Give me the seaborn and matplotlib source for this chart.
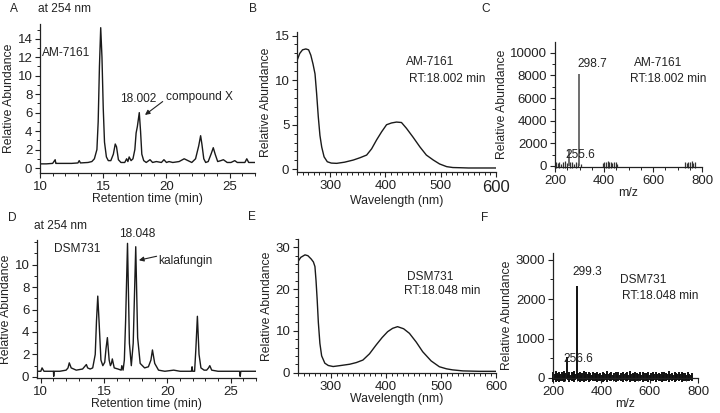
import matplotlib
matplotlib.use("Agg")
import matplotlib.pyplot as plt
from matplotlib.ticker import MultipleLocator
import seaborn as sns

# ---------------- data ----------------
# Panel A: HPLC chromatogram (254 nm) of AM-7161
A_time = [
    10.0, 10.5, 11.0, 11.2, 11.25, 11.3, 11.8, 12.5, 13.0, 13.1,
    13.2, 13.8, 14.1, 14.3, 14.5, 14.6, 14.7, 14.8, 14.9, 15.0,
    15.1, 15.25, 15.4, 15.6, 15.8, 15.95, 16.05, 16.2, 16.4, 16.7,
    16.85, 16.95, 17.05, 17.2, 17.35, 17.5, 17.6, 17.7, 17.85, 17.95,
    18.05, 18.2, 18.4, 18.7, 18.9, 19.2, 19.6, 19.8, 20.0, 20.2,
    20.5, 21.0, 21.4, 21.7, 22.0, 22.3, 22.55, 22.7, 22.8, 22.95,
    23.1, 23.3, 23.55, 23.7, 23.85, 24.05, 24.3, 24.5, 24.8, 25.1,
    25.4, 25.6, 25.9, 26.2, 26.35, 26.5, 27.0]
A_val = [
    0.45, 0.45, 0.5, 0.9, 0.5, 0.5, 0.5, 0.5, 0.55, 0.8,
    0.55, 0.6, 0.7, 1.0, 2.0, 5.0, 11.0, 15.2, 12.0, 6.5,
    2.8, 1.2, 0.8, 0.8, 1.5, 2.6, 2.3, 0.9, 0.6, 0.6,
    1.0, 0.7, 1.2, 0.8, 1.0, 2.0, 3.8, 4.5, 6.0, 4.0,
    1.5, 0.8, 0.6, 0.9, 0.6, 0.7, 0.6, 0.9, 0.6, 0.7,
    0.6, 0.7, 1.0, 0.8, 0.6, 1.0, 2.4, 3.5, 2.6, 1.0,
    0.6, 0.7, 1.6, 2.2, 1.5, 0.7, 0.8, 0.9, 0.6, 0.6,
    0.8, 0.6, 0.6, 0.6, 1.0, 0.6, 0.6]

# Panel D: HPLC chromatogram (254 nm) of DSM731
D_time = [
    9.7, 10.0, 10.1, 10.25, 10.6, 11.0, 11.02, 11.05, 11.5, 12.0,
    12.15, 12.25, 12.4, 12.8, 13.3, 13.6, 13.7, 13.9, 14.1, 14.3,
    14.4, 14.5, 14.6, 14.75, 14.9, 15.05, 15.15, 15.26, 15.4, 15.5,
    15.58, 15.65, 15.8, 16.1, 16.35, 16.4, 16.5, 16.6, 16.7, 16.85,
    17.0, 17.15, 17.3, 17.5, 17.65, 17.85, 18.2, 18.5, 18.7, 18.82,
    19.0, 19.3, 19.8, 20.5, 21.0, 21.5, 21.9, 21.95, 22.0, 22.15,
    22.25, 22.37, 22.5, 22.65, 22.9, 23.1, 23.25, 23.35, 23.5, 24.0,
    24.5, 25.0, 25.5, 25.7, 25.75, 25.8, 26.2, 26.6, 27.0]
D_val = [
    0.5, 0.5, 0.8, 0.5, 0.5, 0.5, 0.05, 0.5, 0.5, 0.6,
    0.8, 1.25, 0.8, 0.6, 0.7, 1.1, 0.8, 0.7, 0.8, 2.0,
    5.0, 7.2, 5.0, 1.5, 1.0, 1.3, 2.5, 3.5, 1.5, 1.0,
    1.2, 1.6, 0.8, 0.7, 0.6, 1.0, 0.6, 1.5, 5.0, 11.9,
    3.0, 1.0, 3.0, 11.6, 3.5, 1.2, 0.8, 0.9, 1.5, 2.4,
    1.2, 0.6, 0.5, 0.6, 0.5, 0.5, 0.5, 0.9, 0.5, 0.5,
    2.5, 5.4, 2.0, 0.8, 0.6, 0.6, 0.8, 1.0, 0.6, 0.5,
    0.5, 0.5, 0.5, 0.5, 0.05, 0.5, 0.5, 0.5, 0.5]

# Panel B: UV spectrum, AM-7161, RT 18.002 min
B_wl = [240, 245, 250, 256, 261, 265, 269, 272.6, 275.5, 278.5,
        281.5, 284.7, 289, 294.8, 302, 311.8, 326, 341.8, 354, 366,
        375, 384, 393, 402, 411, 420, 429, 438, 450, 462.5,
        474, 486.6, 498, 510.8, 522, 535, 550, 565, 580, 600]
B_val = [12.2, 13.0, 13.4, 13.5, 13.4, 12.8, 11.8, 10.7, 8.5, 5.9,
         3.8, 2.5, 1.4, 0.85, 0.7, 0.67, 0.8, 1.04, 1.3, 1.6,
         2.3, 3.3, 4.2, 5.0, 5.2, 5.3, 5.25, 4.6, 3.6, 2.5,
         1.6, 1.04, 0.6, 0.3, 0.2, 0.18, 0.15, 0.15, 0.15, 0.15]

# Panel E: UV spectrum, DSM731, RT 18.048 min
E_wl = [240, 245, 252.7, 258, 264, 268, 270.8, 272.8, 274.9, 277,
        279.8, 283, 288.8, 295, 303.9, 318, 334, 346, 358, 370,
        382, 393, 403, 412, 421, 432, 442.6, 455, 466.7, 482,
        497, 510, 521, 540, 570, 600]
E_val = [26.6, 27.6, 28.2, 28.0, 27.2, 26.5, 25.4, 22.0, 17.4, 12.0,
         7.0, 4.0, 2.25, 1.7, 1.45, 1.7, 2.0, 2.4, 3.0, 4.5,
         6.6, 8.4, 9.8, 10.6, 11.0, 10.5, 9.4, 7.3, 5.0, 2.8,
         1.4, 0.9, 0.65, 0.4, 0.3, 0.3]

# Panel C: mass spectrum, AM-7161
C_peak_mz = [298.7, 255.6]
C_peak_int = [8100, 1400]
C_noise_mz = [205, 212, 218, 226, 233, 240, 247, 262, 270, 278,
              285, 292, 305, 395, 402, 408, 415, 421, 428, 434,
              441, 447, 455, 730, 737, 744, 751, 758, 765, 772]
C_noise_int = [300, 250, 350, 200, 300, 400, 250, 300, 350, 200,
               300, 250, 200, 250, 350, 300, 400, 300, 350, 250,
               300, 350, 200, 300, 250, 350, 300, 400, 250, 300]

# Panel F: mass spectrum, DSM731
F_peak_mz = [299.3, 256.6]
F_peak_int = [2340, 530]
F_noise_mz = [202, 207, 211, 216, 221, 226, 231, 236, 240, 245,
              250, 262, 267, 272, 277, 283, 288, 293, 305, 310,
              316, 321, 327, 333, 338, 344, 350, 355, 361, 367,
              372, 378, 384, 390, 395, 401, 407, 412, 418, 424,
              430, 436, 441, 447, 453, 459, 465, 470, 476, 482,
              488, 494, 500, 506, 512, 517, 523, 529, 535, 541,
              547, 553, 559, 565, 571, 577, 583, 589, 595, 601,
              607, 613, 619, 625, 631, 637, 643, 649, 655, 661,
              667, 673, 679, 685, 691, 697, 703, 709, 715, 721,
              727, 733, 739, 745, 751, 757, 763, 769, 775]
F_noise_int = [150, 90, 170, 120, 80, 160, 110, 140, 95, 175,
               130, 100, 160, 85, 140, 120, 170, 90, 130, 150,
               80, 120, 165, 100, 140, 90, 155, 115, 70, 145,
               125, 95, 160, 110, 135, 80, 150, 120, 100, 170,
               90, 130, 145, 85, 120, 160, 100, 140, 75, 130,
               155, 95, 120, 145, 85, 165, 110, 130, 90, 150,
               120, 100, 140, 80, 160, 115, 135, 95, 150, 70,
               125, 145, 100, 160, 90, 130, 110, 150, 85, 140,
               120, 95, 165, 105, 135, 80, 150, 120, 100, 140,
               90, 160, 115, 130, 85, 145, 110, 70, 120]

# ---------------- styling ----------------
sns.set_theme(style="ticks")
plt.rcParams["font.family"] = ["Liberation Sans", "DejaVu Sans"]
plt.rcParams.update({
    "xtick.labelsize": 9.5, "ytick.labelsize": 9.5,
    "axes.labelsize": 8.8,
    "xtick.major.size": 3.5, "ytick.major.size": 3.5,
    "xtick.minor.size": 2, "ytick.minor.size": 2,
    "xtick.major.width": 0.8, "ytick.major.width": 0.8,
    "xtick.minor.width": 0.7, "ytick.minor.width": 0.7,
    "axes.linewidth": 0.9,
    "axes.edgecolor": "#222222",
    "xtick.color": "#222222", "ytick.color": "#222222",
    "text.color": "#222222", "axes.labelcolor": "#222222",
    "xtick.major.pad": 2, "ytick.major.pad": 2,
})

W, H = 720, 413
fig = plt.figure(figsize=(W / 100, H / 100), dpi=100)


def add_ax(l, t, r, b):
    return fig.add_axes([l / W, 1 - b / H, (r - l) / W, (b - t) / H])


def ftext(x, y, s, ha="center", size=8.6):
    fig.text(x / W, 1 - y / H, s, ha=ha, va="center", fontsize=size)


axA = add_ax(40, 24, 255, 173)
axB = add_ax(297, 32, 496, 172)
axC = add_ax(555, 42, 702, 167)
axD = add_ax(37, 240, 256, 378)
axE = add_ax(298, 239, 496, 373)
axF = add_ax(553, 253, 698, 378)

line_kw = dict(estimator=None, sort=False, color="#1a1a1a", linewidth=1.0)

# Chromatograms
sns.lineplot(x=A_time, y=A_val, ax=axA, **line_kw)
sns.lineplot(x=D_time, y=D_val, ax=axD, **line_kw)
for ax, ylim, ymaj in [(axA, (-0.54, 15.6), 2), (axD, (-0.1, 12.2), 2)]:
    ax.set_ylim(*ylim)
    ax.xaxis.set_major_locator(MultipleLocator(5))
    ax.xaxis.set_minor_locator(MultipleLocator(1))
    ax.yaxis.set_major_locator(MultipleLocator(ymaj))
    ax.yaxis.set_minor_locator(MultipleLocator(1))
    ax.set_xlabel("Retention time (min)", labelpad=0)
    ax.set_ylabel("Relative Abundance", labelpad=2)
axA.set_xlim(10, 27)
axD.set_xlim(9.7, 27)
axA.set_yticks(range(0, 15, 2))
axD.set_yticks(range(0, 11, 2))

# UV spectra
sns.lineplot(x=B_wl, y=B_val, ax=axB, **line_kw)
sns.lineplot(x=E_wl, y=E_val, ax=axE, **line_kw)
for ax, ylim, ymaj, ymin in [(axB, (-0.3, 15.4), 5, 1), (axE, (-0.1, 32), 10, 2)]:
    ax.set_xlim(240, 600)
    ax.set_ylim(*ylim)
    ax.set_xticks([300, 400, 500, 600])
    ax.xaxis.set_minor_locator(MultipleLocator(10))
    ax.yaxis.set_major_locator(MultipleLocator(ymaj))
    ax.yaxis.set_minor_locator(MultipleLocator(ymin))
    ax.set_xlabel("Wavelength (nm)", labelpad=0)
    ax.set_ylabel("Relative Abundance", labelpad=2)
axB.get_xticklabels()[-1].set_fontsize(12)

# Mass spectra
axC.vlines(C_noise_mz, [-0.5 * v for v in C_noise_int], C_noise_int,
           color="#333333", linewidth=0.9, clip_on=False)
axC.vlines(C_peak_mz, 0, C_peak_int, color="#555555", linewidth=1.2)
axF.vlines(F_noise_mz, [-0.6 * v for v in F_noise_int], F_noise_int,
           color="#111111", linewidth=1.4, clip_on=False)
axF.vlines(F_peak_mz, 0, F_peak_int, color="#111111", linewidth=1.4)
for ax, ylim, ymaj, ymin in [(axC, (-100, 10960), 2000, 1000),
                             (axF, (0, 3170), 1000, 500)]:
    ax.set_xlim(200, 800)
    ax.set_ylim(*ylim)
    ax.set_xticks([200, 400, 600, 800])
    ax.xaxis.set_minor_locator(MultipleLocator(50))
    ax.yaxis.set_major_locator(MultipleLocator(ymaj))
    ax.yaxis.set_minor_locator(MultipleLocator(ymin))
    ax.set_xlabel("m/z", labelpad=0)
    ax.set_ylabel("Relative Abundance", labelpad=2)

for ax in [axA, axB, axC, axD, axE, axF]:
    sns.despine(ax=ax)
    ax.tick_params(which="both", direction="out")

arrow_kw = dict(arrowstyle="-|>", color="#222222", lw=0.8,
                mutation_scale=7, shrinkA=0, shrinkB=0)

# Annotations panel A
axA.text(12.1, 12.5, "AM-7161", ha="center", va="center", fontsize=8.6)
axA.text(17.75, 7.5, "18.002", ha="center", va="center", fontsize=8.6)
axA.text(19.95, 7.7, "compound X", ha="left", va="center", fontsize=8.6)
axA.annotate("", xy=(18.3, 5.75), xytext=(19.7, 7.2), arrowprops=arrow_kw)

# Annotations panel D
axD.text(12.85, 11.4, "DSM731", ha="center", va="center", fontsize=8.6)
axD.text(17.6, 12.7, "18.048", ha="center", va="center", fontsize=8.6,
         clip_on=False)
axD.text(19.25, 10.3, "kalafungin", ha="left", va="center", fontsize=8.6)
axD.annotate("", xy=(17.75, 10.4), xytext=(19.15, 10.75), arrowprops=arrow_kw)

# Figure-level texts
ftext(14, 9, "A")
ftext(64, 9, "at 254 nm")
ftext(253, 9, "B")
ftext(430, 62, "AM-7161")
ftext(447, 79, "RT:18.002 min")
ftext(486, 9, "C")
ftext(592, 64, "298.7")
ftext(658, 63, "AM-7161")
ftext(668, 79, "RT:18.002 min")
ftext(580, 155, "255.6")

ftext(12, 218, "D")
ftext(60, 226, "at 254 nm")
ftext(252, 217, "E")
ftext(430, 277, "DSM731")
ftext(442, 291, "RT:18.048 min")
ftext(485, 218, "F")
ftext(587, 272, "299.3")
ftext(643, 280, "DSM731")
ftext(660, 296, "RT:18.048 min")
ftext(578, 359, "256.6")

fig.savefig("out.png", dpi=100, facecolor="white")
